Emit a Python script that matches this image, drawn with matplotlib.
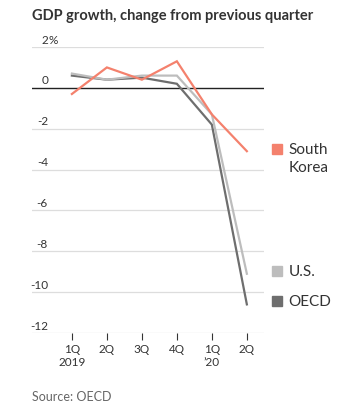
import matplotlib
matplotlib.use('Agg')
from matplotlib import pyplot as plt
from matplotlib.transforms import blended_transform_factory

quarters = ['1Q\n2019', '2Q', '3Q', '4Q', '1Q\n\u201920', '2Q']
korea = [-0.3, 1.0, 0.4, 1.3, -1.3, -3.1]
us = [0.7, 0.4, 0.6, 0.6, -1.3, -9.1]
oecd = [0.6, 0.4, 0.5, 0.2, -1.8, -10.6]
yticks = [2, 0, -2, -4, -6, -8, -10, -12]
ytick_labels = ['2%', '0', '-2', '-4', '-6', '-8', '-10', '-12']

# name lines, values, colour, legend y position (data units)
series = [
    (['South', 'Korea'], korea, '#f4816d', -3.0),
    (['U.S.'], us, '#bdbdbd', -8.95),
    (['OECD'], oecd, '#6e6e6e', -10.43),
]

plt.rcParams['font.family'] = ['Lato', 'DejaVu Sans']

W, H = 350, 410
fig = plt.figure(figsize=(W / 100, H / 100), dpi=100)
ax = fig.add_axes([32 / W, 1 - 334 / H, 232 / W, 286 / H])

x = list(range(len(quarters)))
for name, vals, color, _ in series[::-1]:
    ax.plot(x, vals, color=color, lw=1.6, solid_joinstyle='miter', zorder=3)

ax.set_xlim(-1.14, 5.49)
ax.set_ylim(-12, 2)

for t in yticks:
    if t == 0:
        ax.axhline(t, color='#222222', lw=1.0, zorder=2)
    else:
        ax.axhline(t, color='#dddddd', lw=0.9, zorder=1)

for s in ax.spines.values():
    s.set_visible(False)
ax.set_yticks([])
ax.set_xticks(x)
ax.set_xticklabels(quarters, fontsize=8.5, color='#333333', linespacing=1.2)
ax.tick_params(axis='x', length=5, width=0.8, color='#333333', pad=2)

ty = blended_transform_factory(ax.transAxes, ax.transData)
for t, lab in zip(yticks, ytick_labels):
    if lab.endswith('%'):
        ax.text(0.069, t + 0.12, lab[:-1], transform=ty, ha='right', va='bottom',
                fontsize=8.5, color='#333333')
        ax.text(0.069, t + 0.12, '%', transform=ty, ha='left', va='bottom',
                fontsize=8.5, color='#333333')
    else:
        ax.text(0.069, t + 0.12, lab, transform=ty, ha='right', va='bottom',
                fontsize=8.5, color='#333333')

# legend labels next to line ends
line_step = 18 / 20.36
for lines, vals, color, ly in series:
    ax.plot([1.056], [ly], marker='s', ms=7, color=color, transform=ty,
            clip_on=False, linestyle='none')
    for i, part in enumerate(lines):
        ax.text(1.105, ly - i * line_step, part, transform=ty, ha='left',
                va='center', fontsize=11, color='#333333')

fig.text(32 / W, 1 - 16 / H, 'GDP growth, change from previous quarter',
         fontsize=10.5, fontweight='bold', color='#333333', ha='left', va='center')
fig.text(32 / W, 1 - 397 / H, 'Source: OECD', fontsize=9, color='#666666',
         ha='left', va='center')

fig.savefig('out.png', dpi=100)
